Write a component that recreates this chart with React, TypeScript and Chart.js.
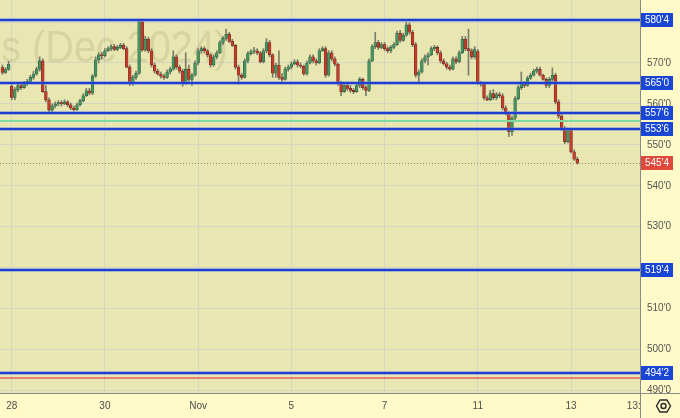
import React, { useEffect, useRef } from 'react';
import { Chart, registerables } from 'chart.js';

Chart.register(...registerables);

// ---- Candle data (cents, wheat futures Dec 2024, hourly-ish bars) ----
const opens = [
  568.9, 567.7, 568.4,
  564.3, 561.6, 563.5, 564.5, 564.0, 565.0, 565.5, 566.5, 567.3, 568.5, 570.5, 563.0, 561.0, 558.5, 559.5,
  560.0, 560.3, 560.0, 560.5, 559.8, 559.0, 558.6, 559.8, 560.8, 562.0, 563.2, 562.6, 566.8, 570.8, 572.0,
  571.8, 573.0, 573.5, 574.0, 573.3, 573.8, 574.3, 573.5, 569.0, 565.2, 566.5, 567.5, 580.0, 573.2, 575.8,
  573.0, 569.5, 568.0, 567.3, 566.8, 566.5, 567.8, 568.5, 571.5, 569.0, 568.0, 565.0, 568.5, 566.0, 567.0,
  570.0, 573.0, 573.5, 573.0, 572.0, 569.5, 571.5, 572.5, 575.0, 576.0, 577.0, 575.3, 574.3, 569.0, 567.0,
  566.5, 570.5, 572.3, 572.8, 573.0, 572.5, 570.3, 573.0, 575.0, 572.0, 567.5, 569.5, 566.5, 566.0, 568.5,
  569.0, 569.8, 570.3, 569.5, 569.2, 567.3, 570.0, 571.5, 570.5, 570.0, 573.0, 573.5, 567.0, 572.5, 571.0,
  569.7, 565.0, 563.0, 564.5, 563.8, 563.3, 563.0, 564.5, 566.0, 564.0, 563.3, 570.5, 574.0, 575.0, 573.8,
  574.5, 573.5, 573.0, 573.8, 574.5, 577.3, 575.5, 576.8, 579.3, 577.5, 574.5, 567.0, 567.8, 570.5, 571.5,
  572.0, 573.5, 573.8, 572.5, 570.5, 569.8, 569.0, 568.5, 571.0, 570.3, 572.5, 575.8, 573.5, 573.0, 571.5,
  572.8, 565.2, 564.8, 561.5, 561.0, 562.5, 561.5, 562.3, 562.0, 559.0, 557.8, 553.2, 556.5, 561.3, 564.0,
  565.0, 564.5, 566.3, 567.0, 568.0, 568.5, 567.0, 566.0, 564.5, 566.0, 567.0, 560.5, 557.0, 554.0, 550.8,
  553.5, 548.3, 546.5,
];
const highs = [
  569.5, 568.9, 570.4,
  565.0, 564.0, 565.0, 565.0, 565.5, 566.0, 567.0, 568.0, 569.0, 571.5, 571.0, 564.5, 561.5, 560.0, 560.5,
  560.8, 560.8, 561.0, 560.8, 560.2, 559.5, 560.2, 561.2, 562.5, 563.8, 563.8, 567.2, 571.5, 572.5, 572.6,
  573.5, 574.0, 574.5, 574.5, 574.3, 574.8, 574.8, 574.0, 569.5, 567.0, 568.0, 580.5, 580.3, 576.5, 576.3,
  573.5, 570.0, 568.5, 567.8, 567.3, 568.3, 569.0, 573.0, 572.0, 569.5, 568.5, 572.5, 569.5, 567.5, 570.5,
  573.5, 574.0, 574.0, 573.3, 572.3, 572.0, 573.0, 575.5, 576.5, 578.3, 577.5, 575.8, 574.5, 569.5, 567.5,
  571.0, 572.8, 573.3, 573.8, 573.5, 572.8, 573.5, 576.0, 575.5, 572.3, 570.0, 573.0, 567.5, 569.0, 569.5,
  570.3, 570.8, 570.8, 570.0, 569.5, 570.5, 572.0, 572.0, 571.0, 573.5, 574.0, 574.0, 573.0, 573.0, 571.5,
  570.0, 565.5, 565.0, 565.3, 564.5, 563.8, 565.0, 566.5, 566.3, 564.5, 571.0, 574.5, 577.5, 575.5, 575.0,
  575.0, 574.0, 574.3, 575.0, 577.8, 578.0, 577.3, 580.0, 579.8, 578.0, 575.0, 568.3, 571.0, 572.0, 572.5,
  574.0, 574.3, 574.2, 573.0, 571.0, 570.2, 569.5, 571.5, 571.5, 573.0, 576.5, 576.5, 578.3, 573.5, 574.0,
  573.3, 565.5, 565.3, 562.0, 563.3, 563.5, 562.8, 562.8, 562.5, 559.5, 558.0, 557.0, 561.8, 564.5, 567.8,
  565.5, 566.8, 567.5, 568.5, 569.0, 569.0, 567.3, 566.3, 566.5, 568.8, 567.5, 561.0, 557.5, 554.5, 553.8,
  554.0, 548.8, 547.0,
];
const lows = [
  567.2, 567.4, 568.2,
  561.0, 561.0, 563.0, 563.5, 563.8, 564.5, 565.0, 566.0, 567.0, 568.0, 562.8, 560.5, 558.0, 558.0, 559.0,
  559.5, 559.5, 559.8, 559.3, 558.6, 558.2, 558.4, 559.5, 560.5, 561.8, 562.2, 562.3, 566.5, 570.0, 571.0,
  571.5, 572.8, 573.0, 573.0, 573.0, 573.5, 573.2, 568.8, 564.5, 564.5, 566.0, 567.2, 572.8, 572.8, 572.5,
  569.0, 567.5, 567.0, 566.3, 566.0, 566.2, 567.3, 568.2, 568.5, 567.5, 564.3, 564.8, 565.5, 564.5, 566.8,
  569.5, 572.5, 572.5, 571.5, 569.0, 569.2, 571.0, 572.3, 574.5, 575.5, 575.0, 574.0, 568.5, 564.8, 566.0,
  566.3, 570.0, 572.0, 572.3, 572.0, 570.0, 570.0, 572.5, 571.5, 566.5, 566.5, 566.0, 565.5, 565.8, 568.0,
  568.5, 569.5, 569.0, 568.8, 567.0, 567.0, 569.8, 570.0, 569.5, 569.8, 572.8, 566.5, 566.8, 570.5, 569.3,
  564.5, 562.0, 562.8, 563.3, 562.8, 562.5, 562.8, 564.0, 563.5, 562.0, 563.0, 570.3, 573.5, 573.3, 573.5,
  573.0, 572.5, 572.5, 573.5, 574.3, 575.0, 575.3, 576.5, 577.0, 574.0, 566.5, 565.0, 567.5, 570.0, 569.5,
  571.8, 573.0, 572.0, 570.0, 569.5, 568.5, 568.2, 568.3, 569.8, 570.0, 572.3, 573.0, 567.0, 571.0, 571.0,
  564.8, 564.3, 561.0, 560.8, 560.8, 561.0, 561.0, 561.5, 558.5, 557.3, 552.0, 552.3, 556.0, 561.0, 563.5,
  564.0, 564.3, 566.0, 566.8, 567.5, 566.8, 565.8, 564.0, 564.0, 565.5, 560.0, 556.5, 553.5, 550.3, 550.5,
  548.0, 546.2, 545.3,
];
const closes = [
  567.7, 568.4, 569.7,
  561.6, 563.5, 564.5, 564.0, 565.0, 565.5, 566.5, 567.3, 568.5, 570.5, 563.0, 561.0, 558.5, 559.5, 560.0,
  560.3, 560.0, 560.5, 559.8, 559.0, 558.6, 559.8, 560.8, 562.0, 563.2, 562.6, 566.8, 570.8, 572.0, 571.8,
  573.0, 573.5, 574.0, 573.3, 573.8, 574.3, 573.5, 569.0, 565.2, 566.5, 567.5, 580.0, 573.2, 575.8, 573.0,
  569.5, 568.0, 567.3, 566.8, 566.5, 567.8, 568.5, 571.5, 569.0, 568.0, 565.0, 568.5, 566.0, 567.0, 570.0,
  573.0, 573.5, 573.0, 572.0, 569.5, 571.5, 572.5, 575.0, 576.0, 577.0, 575.3, 574.3, 569.0, 567.0, 566.5,
  570.5, 572.3, 572.8, 573.0, 572.5, 570.3, 573.0, 575.0, 572.0, 567.5, 569.5, 566.5, 566.0, 568.5, 569.0,
  569.8, 570.3, 569.5, 569.2, 567.3, 570.0, 571.5, 570.5, 570.0, 573.0, 573.5, 567.0, 572.5, 571.0, 569.7,
  565.0, 563.0, 564.5, 563.8, 563.3, 563.0, 564.5, 566.0, 564.0, 563.3, 570.5, 574.0, 575.0, 573.8, 574.5,
  573.5, 573.0, 573.8, 574.5, 577.3, 575.5, 576.8, 579.3, 577.5, 574.5, 567.0, 567.8, 570.5, 571.5, 572.0,
  573.5, 573.8, 572.5, 570.5, 569.8, 569.0, 568.5, 571.0, 570.3, 572.5, 575.8, 573.5, 573.0, 571.5, 573.3,
  565.2, 564.8, 561.5, 561.0, 562.5, 561.5, 562.3, 562.0, 559.0, 557.8, 553.2, 556.5, 561.3, 564.0, 565.0,
  564.5, 566.3, 567.0, 568.0, 568.5, 567.0, 566.0, 564.5, 566.0, 567.0, 560.5, 557.0, 554.0, 550.8, 553.5,
  548.3, 546.5, 545.5,
];

// ---- Time axis ----
const dayLabels = ['28', '30', 'Nov', '5', '7', '11', '13'];
const dayLabelBars = [3, 33, 63, 93, 123, 153, 183];
const futureLabel = '13:00';
const futureLabelBar = 205.0;

// ---- Price axis ----
const priceTicks = [490, 500, 510, 520, 530, 540, 550, 560, 570, 580];
const coveredTickLabels = [520, 580];
const blueLevels = [580.5, 565.0, 557.75, 553.75, 519.5, 494.25];
const greenLevels = [555.9];
const redLevels = [493.0];
const lastPrice = closes[closes.length - 1];
const watermark = 's (Dec 2024)';

const PLOT_BG = '#e9e7b1';
const AXIS_BG = '#fffac8';
const GREEN = '#479460';
const GREEN_EDGE = '#2b6040';
const RED = '#c23d2c';
const RED_EDGE = '#72261b';
const WICK = '#7c7c6c';
const BLUE = '#1d3ed0';
const BLUE_BOX = '#1a46d6';
const FONT = "'Liberation Sans', Arial, sans-serif";

function fmtPrice(p: number): string {
  const whole = Math.floor(p);
  const eighth = Math.round((p - whole) * 8);
  return `${whole}'${eighth}`;
}

const overlayPlugin = {
  id: 'tvOverlay',
  beforeDraw(chart: any) {
    const { ctx, chartArea: a, width, height } = chart;
    ctx.save();
    ctx.fillStyle = AXIS_BG;
    ctx.fillRect(0, 0, width, height);
    ctx.fillStyle = PLOT_BG;
    ctx.fillRect(a.left, a.top, a.right - a.left, a.bottom - a.top);
    ctx.restore();
  },
  beforeDatasetsDraw(chart: any) {
    const { ctx } = chart;
    ctx.save();
    ctx.translate(228, 62);
    ctx.scale(0.9, 1);
    ctx.font = `44px ${FONT}`;
    ctx.fillStyle = 'rgba(120,112,70,0.16)';
    ctx.textAlign = 'right';
    ctx.textBaseline = 'alphabetic';
    ctx.fillText(watermark, 0, 0);
    ctx.restore();
  },
  afterDatasetsDraw(chart: any) {
    const { ctx, chartArea: a, scales } = chart;
    const ys = scales.y;
    ctx.save();
    for (const p of greenLevels) {
      const y = Math.round(ys.getPixelForValue(p));
      ctx.strokeStyle = '#7ed9a0';
      ctx.lineWidth = 2;
      ctx.beginPath();
      ctx.moveTo(a.left, y);
      ctx.lineTo(a.right, y);
      ctx.stroke();
    }
    for (const p of redLevels) {
      const y = Math.round(ys.getPixelForValue(p));
      ctx.strokeStyle = '#e48472';
      ctx.lineWidth = 2;
      ctx.beginPath();
      ctx.moveTo(a.left, y);
      ctx.lineTo(a.right, y);
      ctx.stroke();
    }
    for (const p of blueLevels) {
      const y = Math.round(ys.getPixelForValue(p));
      ctx.strokeStyle = 'rgba(90,120,225,0.45)';
      ctx.lineWidth = 4;
      ctx.beginPath();
      ctx.moveTo(a.left, y);
      ctx.lineTo(a.right, y);
      ctx.stroke();
      ctx.strokeStyle = BLUE;
      ctx.lineWidth = 2;
      ctx.beginPath();
      ctx.moveTo(a.left, y);
      ctx.lineTo(a.right, y);
      ctx.stroke();
    }
    {
      const y = Math.round(ys.getPixelForValue(lastPrice)) + 0.5;
      ctx.strokeStyle = '#8e8c7c';
      ctx.lineWidth = 1;
      ctx.setLineDash([1, 2]);
      ctx.beginPath();
      ctx.moveTo(a.left, y);
      ctx.lineTo(a.right, y);
      ctx.stroke();
      ctx.setLineDash([]);
    }
    ctx.restore();
  },
  afterDraw(chart: any) {
    const { ctx, chartArea: a, scales, width, height } = chart;
    const ys = scales.y;
    const xs = scales.x;
    ctx.save();
    ctx.save();
    ctx.beginPath();
    ctx.rect(0, a.bottom, a.right, height - a.bottom);
    ctx.clip();
    ctx.font = `10px ${FONT}`;
    ctx.fillStyle = '#4d4d4d';
    ctx.textAlign = 'center';
    ctx.textBaseline = 'middle';
    ctx.fillText(futureLabel, xs.getPixelForValue(futureLabelBar), 406);
    ctx.restore();

    ctx.fillStyle = AXIS_BG;
    ctx.fillRect(a.right, a.bottom, width - a.right, height - a.bottom);

    const box = (p: number, bg: string) => {
      const y = Math.round(ys.getPixelForValue(p));
      ctx.fillStyle = bg;
      ctx.fillRect(a.right + 1, y - 7, 32, 14);
      ctx.fillStyle = '#ffffff';
      ctx.font = `10px ${FONT}`;
      ctx.textAlign = 'center';
      ctx.textBaseline = 'middle';
      ctx.fillText(fmtPrice(p), a.right + 17, y + 0.5);
    };
    for (const p of blueLevels) box(p, BLUE_BOX);
    box(lastPrice, '#e04a3c');

    ctx.strokeStyle = '#8a8a84';
    ctx.lineWidth = 1;
    ctx.beginPath();
    ctx.moveTo(a.right + 0.5, 0);
    ctx.lineTo(a.right + 0.5, height);
    ctx.moveTo(0, a.bottom + 0.5);
    ctx.lineTo(width, a.bottom + 0.5);
    ctx.stroke();

    const cx = 663.5, cy = 406, r = 7;
    ctx.strokeStyle = '#2a2a2a';
    ctx.lineWidth = 1.4;
    ctx.beginPath();
    for (let k = 0; k < 6; k++) {
      const ang = (Math.PI / 3) * k;
      const px = cx + r * Math.cos(ang);
      const py = cy + r * Math.sin(ang);
      if (k === 0) ctx.moveTo(px, py);
      else ctx.lineTo(px, py);
    }
    ctx.closePath();
    ctx.stroke();
    ctx.beginPath();
    ctx.arc(cx, cy, 2.5, 0, Math.PI * 2);
    ctx.stroke();
    ctx.restore();
  },
};

export default function App() {
  const ref = useRef<HTMLCanvasElement | null>(null);

  useEffect(() => {
    document.body.style.margin = '0';
    const canvas = ref.current;
    if (!canvas) return;

    const isUp = (k: number) => closes[k] >= opens[k];
    const bodyData = opens.map((o, k) => ({ x: k, y: [o, closes[k]] }));
    const wickData = lows.map((l, k) => ({ x: k, y: [l, highs[k]] }));

    const chart = new Chart(canvas, {
      type: 'bar',
      data: {
        datasets: [
          {
            label: 'body',
            data: bodyData as any,
            grouped: false,
            barThickness: 2.8,
            minBarLength: 1,
            borderWidth: 0.6,
            borderSkipped: false,
            borderColor: (c: any) => (isUp(c.dataIndex) ? GREEN_EDGE : RED_EDGE),
            backgroundColor: (c: any) => (isUp(c.dataIndex) ? GREEN : RED),
          } as any,
          {
            label: 'wick',
            data: wickData as any,
            grouped: false,
            barThickness: 1,
            borderWidth: 0,
            backgroundColor: WICK,
          } as any,
        ],
      },
      plugins: [overlayPlugin],
      options: {
        responsive: false,
        animation: false,
        devicePixelRatio: 1,
        events: [],
        layout: { padding: 0 },
        plugins: {
          legend: { display: false },
          tooltip: { enabled: false },
          title: { display: false },
        },
        scales: {
          x: {
            type: 'linear',
            min: -0.77,
            max: 205.2,
            offset: false,
            grid: { color: '#d6d5c2', drawTicks: false, offset: false },
            border: { display: false },
            afterBuildTicks: (scale: any) => {
              scale.ticks = dayLabelBars.map((v) => ({ value: v }));
            },
            afterFit: (scale: any) => {
              scale.height = 25;
              scale.paddingLeft = 0;
              scale.paddingRight = 0;
              scale.paddingTop = 0;
              scale.paddingBottom = 0;
            },
            ticks: {
              autoSkip: false,
              maxRotation: 0,
              padding: 7,
              color: '#4d4d4d',
              font: { size: 10, family: FONT },
              callback: (_v: any, i: number) => dayLabels[i],
            },
          },
          y: {
            type: 'linear',
            position: 'right',
            min: 489.37,
            max: 585.39,
            grid: { color: '#d6d5c2', drawTicks: false },
            border: { display: false },
            afterBuildTicks: (scale: any) => {
              scale.ticks = priceTicks.map((v) => ({ value: v }));
            },
            afterFit: (scale: any) => {
              scale.width = 40;
              scale.paddingLeft = 0;
              scale.paddingRight = 0;
              scale.paddingTop = 0;
              scale.paddingBottom = 0;
            },
            ticks: {
              padding: 7,
              color: '#555555',
              font: { size: 10, family: FONT },
              callback: (v: any) => (coveredTickLabels.includes(v) ? '' : `${v}'0`),
            },
          },
        },
      } as any,
    });

    return () => chart.destroy();
  }, []);

  return (
    <div style={{ width: 680, height: 418 }}>
      <canvas ref={ref} width={680} height={418} style={{ display: 'block' }} />
    </div>
  );
}
